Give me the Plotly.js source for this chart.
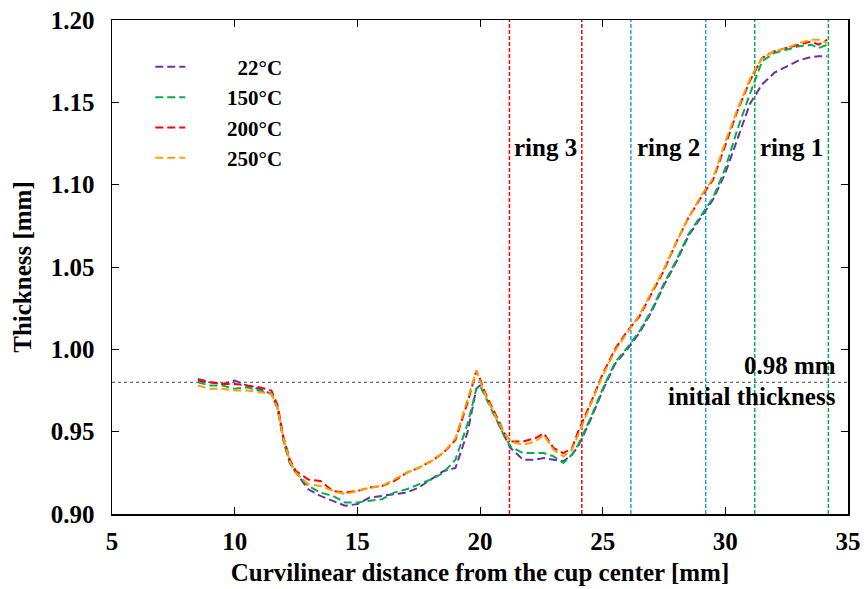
<!DOCTYPE html>
<html>
<head>
<meta charset="utf-8">
<script src="https://cdn.plot.ly/plotly-3.0.1.min.js"></script>
<style>html,body{margin:0;padding:0;background:#fff;}#chart{width:867px;height:589px;}</style>
</head>
<body>
<div id="chart"></div>
<script>
// Curvilinear distance from the cup center [mm]
const distance = [8.5, 9.0, 9.5, 10.0, 10.5, 11.0, 11.5, 11.75, 12.0, 12.25, 12.5, 13.0, 13.5, 14.0, 14.5, 15.0, 15.5, 16.0, 16.5, 17.0, 17.5, 18.0, 18.5, 19.0, 19.5, 19.85, 20.0, 20.25, 20.75, 21.0, 21.25, 21.75, 22.25, 22.6, 23.0, 23.4, 23.75, 24.0, 24.5, 25.0, 25.5, 26.0, 26.5, 27.0, 27.5, 28.0, 28.5, 29.0, 29.5, 30.0, 30.5, 31.0, 31.25, 31.5, 32.0, 32.5, 33.0, 33.5, 33.8, 34.15];

const t22  = [0.982, 0.980, 0.979, 0.981, 0.978, 0.976, 0.973, 0.964, 0.944, 0.931, 0.925, 0.915, 0.911, 0.908, 0.905, 0.906, 0.910, 0.911, 0.912, 0.913, 0.916, 0.921, 0.926, 0.928, 0.950, 0.976, 0.978, 0.972, 0.955, 0.947, 0.940, 0.933, 0.933, 0.934, 0.933, 0.932, 0.936, 0.941, 0.957, 0.975, 0.991, 1.000, 1.010, 1.023, 1.039, 1.053, 1.069, 1.080, 1.091, 1.107, 1.128, 1.149, 1.155, 1.161, 1.168, 1.172, 1.1755, 1.1775, 1.178, 1.178];
const t150 = [0.980, 0.978, 0.978, 0.976, 0.977, 0.975, 0.973, 0.964, 0.944, 0.931, 0.925, 0.917, 0.913, 0.911, 0.907, 0.907, 0.908, 0.909, 0.913, 0.915, 0.918, 0.921, 0.925, 0.933, 0.955, 0.976, 0.978, 0.970, 0.954, 0.947, 0.941, 0.937, 0.937, 0.937, 0.935, 0.931, 0.936, 0.942, 0.958, 0.976, 0.992, 1.001, 1.011, 1.024, 1.040, 1.054, 1.070, 1.081, 1.092, 1.110, 1.134, 1.155, 1.165, 1.175, 1.180, 1.182, 1.184, 1.185, 1.183, 1.185];
const t200 = [0.981, 0.980, 0.979, 0.979, 0.978, 0.977, 0.975, 0.966, 0.946, 0.933, 0.926, 0.921, 0.920, 0.914, 0.913, 0.914, 0.916, 0.917, 0.920, 0.925, 0.928, 0.932, 0.937, 0.945, 0.968, 0.987, 0.982, 0.972, 0.957, 0.949, 0.944, 0.944, 0.946, 0.949, 0.940, 0.937, 0.940, 0.950, 0.967, 0.985, 1.000, 1.011, 1.020, 1.034, 1.048, 1.065, 1.080, 1.092, 1.103, 1.124, 1.145, 1.163, 1.170, 1.177, 1.181, 1.183, 1.185, 1.187, 1.185, 1.188];
const t250 = [0.978, 0.976, 0.976, 0.975, 0.975, 0.974, 0.973, 0.964, 0.945, 0.932, 0.925, 0.918, 0.917, 0.914, 0.912, 0.914, 0.916, 0.917, 0.921, 0.925, 0.928, 0.932, 0.937, 0.946, 0.970, 0.987, 0.981, 0.971, 0.956, 0.949, 0.944, 0.942, 0.944, 0.948, 0.939, 0.935, 0.939, 0.948, 0.967, 0.984, 0.999, 1.010, 1.021, 1.035, 1.049, 1.065, 1.080, 1.093, 1.104, 1.126, 1.146, 1.164, 1.171, 1.177, 1.181, 1.183, 1.186, 1.188, 1.188, 1.186];

const seriesNames = ['22°C', '150°C', '200°C', '250°C'];
const seriesColors = ['#7030a0', '#00b050', '#ff0000', '#ffa000'];
const seriesValues = [t22, t150, t200, t250];

// Ring boundaries [mm]
const ring3 = [21.2, 24.15];
const ring2 = [26.15, 29.2];
const ring1 = [31.2, 34.2];
const ringLabels = ['ring 3', 'ring 2', 'ring 1'];
const ringColors = ['#ff0000', '#1ba1e2', '#00b050'];
const initialThickness = 0.98;

const pad = '\u00a0\u00a0\u00a0\u00a0\u00a0\u00a0\u00a0';
const traces = seriesValues.map((v, i) => ({
  x: distance, y: v, type: 'scatter', mode: 'lines',
  name: (i === 0 ? pad + '\u00a0\u00a0' : pad) + seriesNames[i],
  line: {color: seriesColors[i], width: 2, dash: '8px,4px'}
}));

const fam = 'Liberation Serif, Times New Roman, serif';
const f = s => ({family: fam, weight: 'bold', color: '#000', size: s});
const shapes = [];
const annotations = [];
[ring3, ring2, ring1].forEach((r, i) => {
  r.forEach(xv => shapes.push({type: 'line', xref: 'x', yref: 'y', x0: xv, x1: xv, y0: 0.9, y1: 1.2,
    line: {color: ringColors[i], width: 1.5, dash: '4px,2px'}, layer: 'below'}));
  annotations.push({x: (r[0] + r[1]) / 2, y: 1.1225, xref: 'x', yref: 'y', text: ringLabels[i], showarrow: false, font: f(25)});
});
shapes.push({type: 'line', xref: 'x', yref: 'y', x0: 5, x1: 35, y0: initialThickness, y1: initialThickness,
  line: {color: '#444', width: 1, dash: 'dot'}, layer: 'below'});
annotations.push({x: 34.6, y: 0.990, xref: 'x', yref: 'y', xanchor: 'right', text: initialThickness.toFixed(2) + ' mm', showarrow: false, font: f(25)});
annotations.push({x: 34.6, y: 0.9715, xref: 'x', yref: 'y', xanchor: 'right', text: 'initial thickness', showarrow: false, font: f(25)});

const layout = {
  width: 867, height: 589,
  margin: {l: 112, r: 19, t: 20, b: 75},
  paper_bgcolor: '#fff', plot_bgcolor: '#fff',
  showlegend: true,
  legend: {x: 0.052, y: 0.946, xanchor: 'left', yanchor: 'top', bgcolor: 'rgba(0,0,0,0)', font: f(21)},
  xaxis: {range: [5, 35], dtick: 5, tick0: 5, showgrid: false, zeroline: false,
    showline: true, linecolor: '#000', linewidth: 1.5, mirror: 'ticks', ticks: 'inside', ticklen: 7, tickcolor: '#000',
    tickfont: f(25), ticklabelstandoff: 4,
    title: {text: 'Curvilinear distance from the cup center [mm]', font: f(25), standoff: 10}},
  yaxis: {range: [0.9, 1.2], dtick: 0.05, tick0: 0.9, tickformat: '.2f', showgrid: false, zeroline: false,
    showline: true, linecolor: '#000', linewidth: 1.5, mirror: 'ticks', ticks: 'inside', ticklen: 7, tickcolor: '#000',
    tickfont: f(25), ticklabelstandoff: 11,
    title: {text: 'Thickness [mm]', font: f(25), standoff: 12}},
  shapes: shapes,
  annotations: annotations
};
Plotly.newPlot('chart', traces, layout, {displayModeBar: false, staticPlot: true});
</script>
</body>
</html>
